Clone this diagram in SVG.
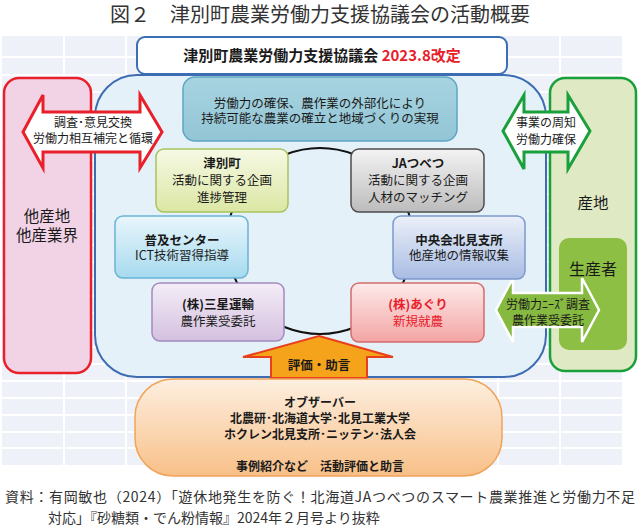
<svg xmlns="http://www.w3.org/2000/svg" width="640" height="529" viewBox="0 0 640 529">
<defs>
<linearGradient id="gYel" x1="0" y1="0" x2="0" y2="1"><stop offset="0" stop-color="#f6f9e4"/><stop offset="1" stop-color="#dbe7a4"/></linearGradient>
<linearGradient id="gGray" x1="0" y1="0" x2="0" y2="1"><stop offset="0" stop-color="#f3f3f3"/><stop offset="1" stop-color="#bcbcbc"/></linearGradient>
<linearGradient id="gBlue" x1="0" y1="0" x2="0" y2="1"><stop offset="0" stop-color="#e9f6fc"/><stop offset="1" stop-color="#a6daee"/></linearGradient>
<linearGradient id="gLav" x1="0" y1="0" x2="0" y2="1"><stop offset="0" stop-color="#ebf0f9"/><stop offset="1" stop-color="#a8bce3"/></linearGradient>
<linearGradient id="gPur" x1="0" y1="0" x2="0" y2="1"><stop offset="0" stop-color="#f4edf7"/><stop offset="1" stop-color="#d4c0df"/></linearGradient>
<linearGradient id="gPink" x1="0" y1="0" x2="0" y2="1"><stop offset="0" stop-color="#feeaea"/><stop offset="1" stop-color="#f3a4a4"/></linearGradient>
<linearGradient id="gTeal" x1="0" y1="0" x2="0" y2="1"><stop offset="0" stop-color="#a8d4e1"/><stop offset="1" stop-color="#92c5d5"/></linearGradient>
<linearGradient id="gObs" x1="0" y1="0" x2="0" y2="1"><stop offset="0" stop-color="#fdefe0"/><stop offset="1" stop-color="#f8c088"/></linearGradient>
<style>
text{font-family:"Noto Sans CJK JP","Noto Sans",sans-serif;fill:#1a1a1a;text-anchor:middle}
.b{font-weight:bold}
.n{font-size:12.5px}
.red{fill:#e8202a}
.grid{stroke:#ffffff;stroke-width:2;fill:none}
.node{stroke-width:1.5}
</style>
</defs>
<rect width="640" height="529" fill="#ffffff"/>
<g id="background-grid">
<rect x="2" y="36" width="620" height="429" fill="#eef2f8"/>
<path class="grid" d="M64 36V465M126 36V465M188 36V465M250 36V465M312 36V465M374 36V465M436 36V465M498 36V465M560 36V465M2 57H622M2 75H622M2 92H622M2 109H622M2 126H622M2 143H622M2 160H622M2 177H622M2 194H622M2 211H622M2 228H622M2 245H622M2 262H622M2 279H622M2 296H622M2 313H622M2 330H622M2 347H622M2 364H622M2 381H622M2 398H622M2 415H622M2 432H622M2 448H622"/>
</g>
<text x="320" y="22" style="font-size:20px;fill:#333">図２　津別町農業労働力支援協議会の活動概要</text>
<g id="header">
<rect x="137" y="37" width="370" height="37" rx="8" fill="#ffffff" stroke="#3a6fb5" stroke-width="2"/>
<text x="322" y="61" class="b" style="font-size:15px">津別町農業労働力支援協議会 <tspan class="red">2023.8改定</tspan></text>
</g>
<g id="other-regions">
<rect x="4" y="78" width="87" height="295" rx="15" fill="#f2d3e6" stroke="#e8202a" stroke-width="2.5"/>
<text x="47" y="222" style="font-size:15.5px">他産地</text>
<text x="47" y="241" style="font-size:15.5px">他産業界</text>
</g>
<g id="sanchi">
<rect x="550" y="78" width="86" height="293" rx="15" fill="#dfe9c3" stroke="#1aa03a" stroke-width="2.5"/>
<text x="593" y="209" style="font-size:15.5px">産地</text>
<rect x="559" y="238" width="68" height="112" rx="10" fill="#8cbf44"/>
<text x="593" y="275" style="font-size:16px">生産者</text>
</g>
<g id="council">
<rect x="95" y="75" width="451" height="302" rx="42" fill="#e4f1f9" stroke="#3d6cb3" stroke-width="2"/>
</g>
<g id="goal">
<rect x="183" y="77" width="274" height="64" rx="12" fill="url(#gTeal)" stroke="#5ea5c2" stroke-width="1.5"/>
<text x="320" y="108" style="font-size:12.5px">労働力の確保、農作業の外部化により</text>
<text x="320" y="123" style="font-size:12.5px">持続可能な農業の確立と地域づくりの実現</text>
</g>
<g id="connectors">
<circle cx="320" cy="241" r="93" fill="none" stroke="#111" stroke-width="2"/>
<path id="arrow-left" d="M23 132L43 95V112H140V95L162 132L140 168V152H43V168Z" fill="#ffffff" stroke="#e8202a" stroke-width="3" stroke-linejoin="miter"/>
<path id="arrow-right" d="M503 131L524 95V112H568V95L590 131L568 169V152H524V169Z" fill="#ffffff" stroke="#1aa03a" stroke-width="3"/>
<path id="arrow-producer" d="M496 310L513 278V293H582V278L599 310L582 342V327H513V342Z" fill="#86b940" stroke="#ffffff" stroke-width="2.5"/>
<path id="arrow-eval" d="M319 336L393 357H367V378H271V357H243Z" fill="#f5a31a" stroke="#e8401c" stroke-width="2"/>
</g>
<g id="connector-labels">
<text x="93" y="127" style="font-size:12px">調査･意見交換</text>
<text x="93" y="143" style="font-size:12px">労働力相互補完と循環</text>
<text x="546" y="127" style="font-size:12px">事業の周知</text>
<text x="546" y="144" style="font-size:12px">労働力確保</text>
<text x="548" y="309" style="font-size:12px">労働力ﾆｰｽﾞ調査</text>
<text x="548" y="325" style="font-size:12px">農作業受委託</text>
<text x="319" y="370" class="b" style="font-size:12.5px">評価・助言</text>
</g>
<g id="tsubetsu">
<rect x="156" y="149" width="132" height="63" rx="8" fill="url(#gYel)" stroke="#a9c25e" class="node"/>
<text x="222" y="168" class="b n">津別町</text>
<text x="222" y="185" class="n">活動に関する企画</text>
<text x="222" y="202" class="n">進捗管理</text>
</g>
<g id="ja">
<rect x="351" y="149" width="133" height="63" rx="8" fill="url(#gGray)" stroke="#4d4d4d" class="node"/>
<text x="418" y="168" class="b n">JAつべつ</text>
<text x="418" y="185" class="n">活動に関する企画</text>
<text x="418" y="202" class="n">人材のマッチング</text>
</g>
<g id="fukyu">
<rect x="115" y="216" width="133" height="62" rx="8" fill="url(#gBlue)" stroke="#6ab3d5" class="node"/>
<text x="182" y="245" class="b n">普及センター</text>
<text x="182" y="260" class="n">ICT技術習得指導</text>
</g>
<g id="chuokai">
<rect x="393" y="216" width="132" height="63" rx="8" fill="url(#gLav)" stroke="#7d98cd" class="node"/>
<text x="459" y="245" class="b n">中央会北見支所</text>
<text x="459" y="260" class="n">他産地の情報収集</text>
</g>
<g id="mitsuboshi">
<rect x="152" y="283" width="132" height="58" rx="8" fill="url(#gPur)" stroke="#a28bbf" class="node"/>
<text x="218" y="309" class="b n">(株)三星運輸</text>
<text x="218" y="326" class="n">農作業受委託</text>
</g>
<g id="aguri">
<rect x="351" y="283" width="133" height="59" rx="8" fill="url(#gPink)" stroke="#d56b6b" class="node"/>
<text x="418" y="309" class="b n red">(株)あぐり</text>
<text x="418" y="326" class="n red">新規就農</text>
</g>
<g id="observer">
<rect x="135" y="379" width="367" height="97" rx="38" fill="url(#gObs)" stroke="#f0a45a" stroke-width="1.5"/>
<text x="320" y="407" class="b" style="font-size:12px">オブザーバー</text>
<text x="320" y="423" class="b" style="font-size:12px">北農研･北海道大学･北見工業大学</text>
<text x="320" y="439" class="b" style="font-size:12px">ホクレン北見支所･ニッテン･法人会</text>
<text x="320" y="471" class="b" style="font-size:12px">事例紹介など　活動評価と助言</text>
</g>
<g id="source">
<text x="5" y="502" style="font-size:14px;fill:#333;text-anchor:start" textLength="630">資料：有岡敏也（2024）「遊休地発生を防ぐ！北海道JAつべつのスマート農業推進と労働力不足</text>
<text x="48" y="523" style="font-size:14px;fill:#333;text-anchor:start">対応」『砂糖類・でん粉情報』2024年２月号より抜粋</text>
</g>
</svg>
